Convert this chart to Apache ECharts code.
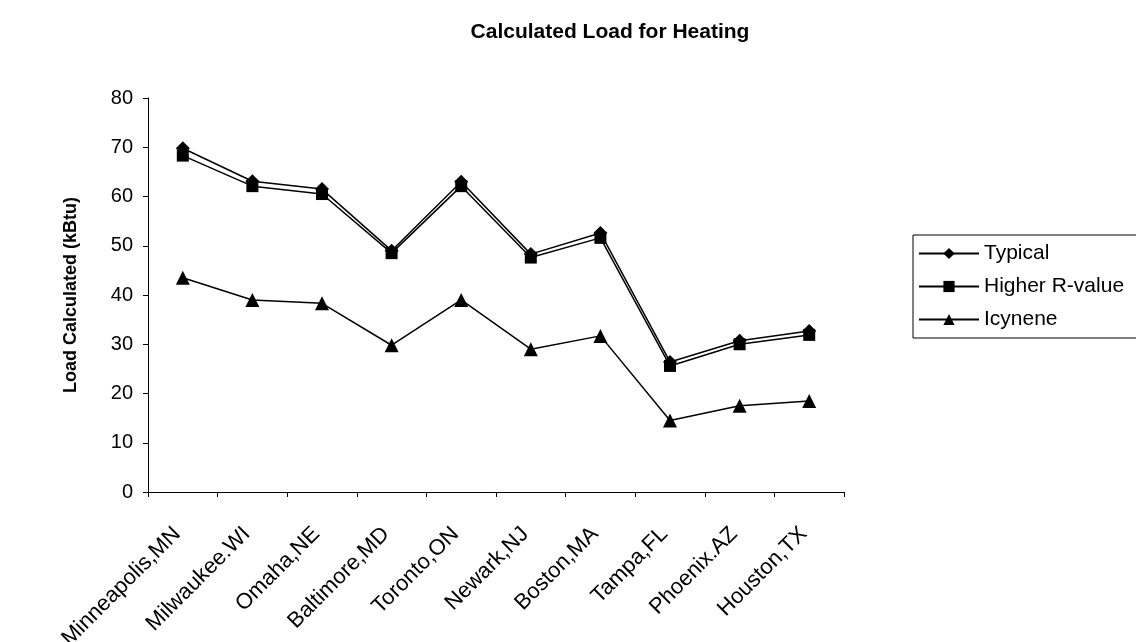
<!DOCTYPE html>
<html>
<head>
<meta charset="utf-8">
<script src="https://cdn.jsdelivr.net/npm/echarts@6/dist/echarts.min.js"></script>
<style>
html,body{margin:0;padding:0;background:#fff;}
#chart{width:1136px;height:642px;}
</style>
</head>
<body>
<div id="chart"></div>
<script>
var categories = ['Minneapolis,MN','Milwaukee.WI','Omaha,NE','Baltimore,MD','Toronto,ON','Newark,NJ','Boston,MA','Tampa,FL','Phoenix.AZ','Houston,TX'];
var typical = [69.8, 63.1, 61.5, 49.0, 63.0, 48.3, 52.6, 26.4, 30.7, 32.7];
var higherR = [68.3, 62.1, 60.5, 48.5, 62.1, 47.6, 51.6, 25.6, 30.0, 31.9];
var icynene = [43.5, 39.0, 38.3, 29.8, 39.0, 29.0, 31.7, 14.5, 17.5, 18.5];
var yTicks = {min: 0, max: 80, interval: 10};

var font = '"Liberation Sans", Arial, sans-serif';
var chart = echarts.init(document.getElementById('chart'));
function ser(name, data, symbol, size) {
  return {
    name: name, type: 'line', data: data,
    symbol: symbol, symbolSize: size,
    itemStyle: {color: '#000'},
    lineStyle: {color: '#000', width: 1.5},
    emphasis: {disabled: true},
    animation: false
  };
}
chart.setOption({
  backgroundColor: '#fff',
  animation: false,
  title: {
    text: 'Calculated Load for Heating',
    left: 605, top: 17, textAlign: 'center',
    textStyle: {fontFamily: font, fontSize: 21, fontWeight: 'bold', color: '#000'}
  },
  grid: {left: 148, right: 292, top: 98, bottom: 150, containLabel: false, outerBoundsMode: 'none'},
  legend: {
    orient: 'vertical',
    left: 913, top: 235,
    padding: [8, 40, 8, 5],
    itemGap: 12,
    itemWidth: 60, itemHeight: 14,
    borderColor: '#000', borderWidth: 1,
    textStyle: {fontFamily: font, fontSize: 21, color: '#000'},
    data: ['Typical', 'Higher R-value', 'Icynene']
  },
  xAxis: {
    type: 'category',
    data: categories,
    boundaryGap: true,
    axisLine: {lineStyle: {color: '#000', width: 1}},
    axisTick: {show: true, length: 5, lineStyle: {color: '#000'}},
    axisLabel: {rotate: 45, fontFamily: font, fontSize: 22, color: '#000', margin: 33, padding: [0, 8, 0, 0], interval: 0},
    splitLine: {show: false}
  },
  yAxis: {
    type: 'value',
    min: yTicks.min, max: yTicks.max, interval: yTicks.interval,
    name: 'Load Calculated (kBtu)',
    nameLocation: 'middle',
    nameGap: 68,
    nameTextStyle: {fontFamily: font, fontSize: 18, fontWeight: 'bold', color: '#000'},
    axisLine: {show: true, lineStyle: {color: '#000', width: 1}},
    axisTick: {show: true, length: 5, lineStyle: {color: '#000'}},
    axisLabel: {fontFamily: font, fontSize: 20, color: '#000', margin: 15},
    splitLine: {show: false}
  },
  series: [
    ser('Typical', typical, 'diamond', 14),
    ser('Higher R-value', higherR, 'rect', 12),
    ser('Icynene', icynene, 'triangle', 14)
  ]
});
</script>
</body>
</html>
